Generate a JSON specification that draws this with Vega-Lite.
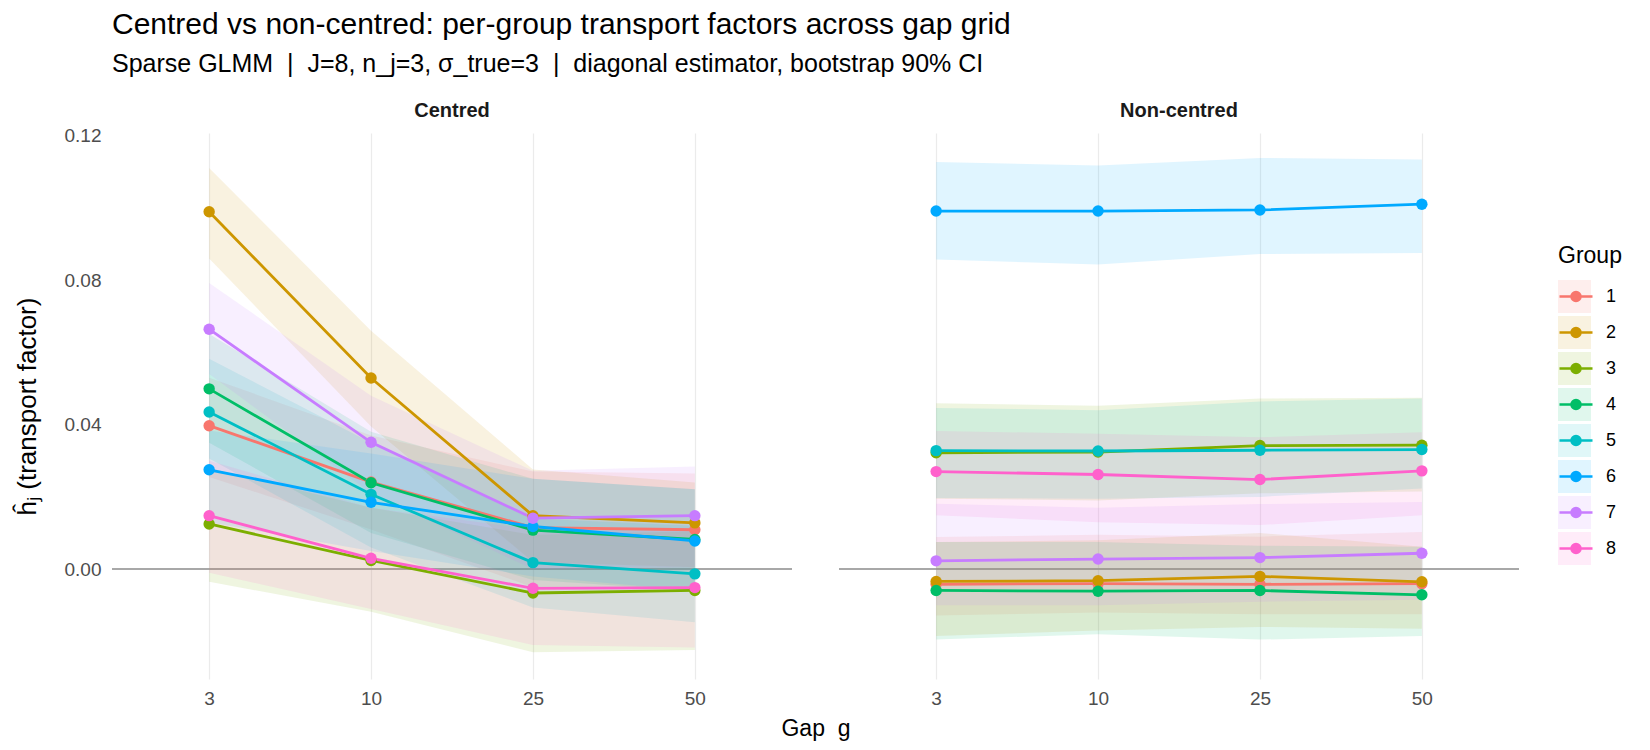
{
  "$schema": "https://vega.github.io/schema/vega-lite/v6.json",
  "background": "white",
  "padding": {"left": 14, "top": 10, "right": 10, "bottom": 2},
  "title": {
    "text": "Centred vs non-centred: per-group transport factors across gap grid",
    "subtitle": "Sparse GLMM \u00a0|\u00a0 J=8, n_j=3, \u03c3_true=3 \u00a0|\u00a0 diagonal estimator, bootstrap 90% CI",
    "anchor": "start",
    "frame": "group",
    "font": "Liberation Sans",
    "fontSize": 30,
    "fontWeight": "normal",
    "color": "#000000",
    "subtitleFont": "Liberation Sans",
    "subtitleFontSize": 25,
    "subtitleColor": "#000000",
    "subtitlePadding": 12,
    "offset": 24
  },
  "data": {
    "values": [
      {"panel": "Centred", "gap": 3, "group": "1", "est": 0.0397, "lo": 0.0255, "hi": 0.0530},
      {"panel": "Centred", "gap": 10, "group": "1", "est": 0.0241, "lo": 0.0110, "hi": 0.0370},
      {"panel": "Centred", "gap": 25, "group": "1", "est": 0.0115, "lo": -0.0050, "hi": 0.0270},
      {"panel": "Centred", "gap": 50, "group": "1", "est": 0.0109, "lo": -0.0055, "hi": 0.0265},
      {"panel": "Centred", "gap": 3, "group": "2", "est": 0.0989, "lo": 0.0860, "hi": 0.1110},
      {"panel": "Centred", "gap": 10, "group": "2", "est": 0.0529, "lo": 0.0395, "hi": 0.0660},
      {"panel": "Centred", "gap": 25, "group": "2", "est": 0.0148, "lo": 0.0020, "hi": 0.0276},
      {"panel": "Centred", "gap": 50, "group": "2", "est": 0.0128, "lo": 0.0005, "hi": 0.0240},
      {"panel": "Centred", "gap": 3, "group": "3", "est": 0.0125, "lo": -0.0035, "hi": 0.0280},
      {"panel": "Centred", "gap": 10, "group": "3", "est": 0.0024, "lo": -0.0118, "hi": 0.0170},
      {"panel": "Centred", "gap": 25, "group": "3", "est": -0.0066, "lo": -0.0230, "hi": 0.0095},
      {"panel": "Centred", "gap": 50, "group": "3", "est": -0.0059, "lo": -0.0224, "hi": 0.0105},
      {"panel": "Centred", "gap": 3, "group": "4", "est": 0.0499, "lo": 0.0350, "hi": 0.0651},
      {"panel": "Centred", "gap": 10, "group": "4", "est": 0.0239, "lo": 0.0100, "hi": 0.0380},
      {"panel": "Centred", "gap": 25, "group": "4", "est": 0.0108, "lo": -0.0030, "hi": 0.0250},
      {"panel": "Centred", "gap": 50, "group": "4", "est": 0.0082, "lo": -0.0060, "hi": 0.0221},
      {"panel": "Centred", "gap": 3, "group": "5", "est": 0.0435, "lo": 0.0306, "hi": 0.0582},
      {"panel": "Centred", "gap": 10, "group": "5", "est": 0.0207, "lo": 0.0060, "hi": 0.0350},
      {"panel": "Centred", "gap": 25, "group": "5", "est": 0.0018, "lo": -0.0106, "hi": 0.0140},
      {"panel": "Centred", "gap": 50, "group": "5", "est": -0.0013, "lo": -0.0147, "hi": 0.0120},
      {"panel": "Centred", "gap": 3, "group": "6", "est": 0.0275, "lo": 0.0130, "hi": 0.0384},
      {"panel": "Centred", "gap": 10, "group": "6", "est": 0.0185, "lo": 0.0050, "hi": 0.0320},
      {"panel": "Centred", "gap": 25, "group": "6", "est": 0.0118, "lo": -0.0020, "hi": 0.0250},
      {"panel": "Centred", "gap": 50, "group": "6", "est": 0.0078, "lo": -0.0060, "hi": 0.0221},
      {"panel": "Centred", "gap": 3, "group": "7", "est": 0.0664, "lo": 0.0540, "hi": 0.0792},
      {"panel": "Centred", "gap": 10, "group": "7", "est": 0.0351, "lo": 0.0210, "hi": 0.0480},
      {"panel": "Centred", "gap": 25, "group": "7", "est": 0.0141, "lo": 0.0000, "hi": 0.0272},
      {"panel": "Centred", "gap": 50, "group": "7", "est": 0.0148, "lo": 0.0005, "hi": 0.0284},
      {"panel": "Centred", "gap": 3, "group": "8", "est": 0.0148, "lo": -0.0010, "hi": 0.0300},
      {"panel": "Centred", "gap": 10, "group": "8", "est": 0.0030, "lo": -0.0110, "hi": 0.0170},
      {"panel": "Centred", "gap": 25, "group": "8", "est": -0.0053, "lo": -0.0210, "hi": 0.0110},
      {"panel": "Centred", "gap": 50, "group": "8", "est": -0.0051, "lo": -0.0217, "hi": 0.0110},
      {"panel": "Non-centred", "gap": 3, "group": "1", "est": -0.0042, "lo": -0.0128, "hi": 0.0089},
      {"panel": "Non-centred", "gap": 10, "group": "1", "est": -0.0040, "lo": -0.0120, "hi": 0.0095},
      {"panel": "Non-centred", "gap": 25, "group": "1", "est": -0.0042, "lo": -0.0125, "hi": 0.0090},
      {"panel": "Non-centred", "gap": 50, "group": "1", "est": -0.0040, "lo": -0.0125, "hi": 0.0103},
      {"panel": "Non-centred", "gap": 3, "group": "2", "est": -0.0034, "lo": -0.0185, "hi": 0.0075},
      {"panel": "Non-centred", "gap": 10, "group": "2", "est": -0.0032, "lo": -0.0170, "hi": 0.0080},
      {"panel": "Non-centred", "gap": 25, "group": "2", "est": -0.0020, "lo": -0.0160, "hi": 0.0100},
      {"panel": "Non-centred", "gap": 50, "group": "2", "est": -0.0035, "lo": -0.0165, "hi": 0.0062},
      {"panel": "Non-centred", "gap": 3, "group": "3", "est": 0.0322, "lo": 0.0195, "hi": 0.0459},
      {"panel": "Non-centred", "gap": 10, "group": "3", "est": 0.0324, "lo": 0.0190, "hi": 0.0452},
      {"panel": "Non-centred", "gap": 25, "group": "3", "est": 0.0342, "lo": 0.0210, "hi": 0.0472},
      {"panel": "Non-centred", "gap": 50, "group": "3", "est": 0.0343, "lo": 0.0215, "hi": 0.0474},
      {"panel": "Non-centred", "gap": 3, "group": "4", "est": -0.0059, "lo": -0.0195, "hi": 0.0075},
      {"panel": "Non-centred", "gap": 10, "group": "4", "est": -0.0061, "lo": -0.0180, "hi": 0.0075},
      {"panel": "Non-centred", "gap": 25, "group": "4", "est": -0.0059, "lo": -0.0195, "hi": 0.0065},
      {"panel": "Non-centred", "gap": 50, "group": "4", "est": -0.0071, "lo": -0.0185, "hi": 0.0062},
      {"panel": "Non-centred", "gap": 3, "group": "5", "est": 0.0328, "lo": 0.0197, "hi": 0.0446},
      {"panel": "Non-centred", "gap": 10, "group": "5", "est": 0.0327, "lo": 0.0195, "hi": 0.0440},
      {"panel": "Non-centred", "gap": 25, "group": "5", "est": 0.0329, "lo": 0.0200, "hi": 0.0464},
      {"panel": "Non-centred", "gap": 50, "group": "5", "est": 0.0331, "lo": 0.0223, "hi": 0.0472},
      {"panel": "Non-centred", "gap": 3, "group": "6", "est": 0.0991, "lo": 0.0857, "hi": 0.1127},
      {"panel": "Non-centred", "gap": 10, "group": "6", "est": 0.0991, "lo": 0.0843, "hi": 0.1117},
      {"panel": "Non-centred", "gap": 25, "group": "6", "est": 0.0994, "lo": 0.0872, "hi": 0.1138},
      {"panel": "Non-centred", "gap": 50, "group": "6", "est": 0.1010, "lo": 0.0875, "hi": 0.1134},
      {"panel": "Non-centred", "gap": 3, "group": "7", "est": 0.0023, "lo": -0.0100, "hi": 0.0181},
      {"panel": "Non-centred", "gap": 10, "group": "7", "est": 0.0028, "lo": -0.0100, "hi": 0.0170},
      {"panel": "Non-centred", "gap": 25, "group": "7", "est": 0.0032, "lo": -0.0090, "hi": 0.0180},
      {"panel": "Non-centred", "gap": 50, "group": "7", "est": 0.0044, "lo": -0.0085, "hi": 0.0186},
      {"panel": "Non-centred", "gap": 3, "group": "8", "est": 0.0270, "lo": 0.0149, "hi": 0.0382},
      {"panel": "Non-centred", "gap": 10, "group": "8", "est": 0.0262, "lo": 0.0130, "hi": 0.0375},
      {"panel": "Non-centred", "gap": 25, "group": "8", "est": 0.0248, "lo": 0.0122, "hi": 0.0365},
      {"panel": "Non-centred", "gap": 50, "group": "8", "est": 0.0272, "lo": 0.0149, "hi": 0.0379}
    ]
  },
  "facet": {
    "column": {
      "field": "panel",
      "type": "nominal",
      "sort": ["Centred", "Non-centred"],
      "header": {
        "title": "Gap\u00a0 g",
        "titleOrient": "bottom",
        "titleFont": "Liberation Sans",
        "titleFontSize": 23,
        "titleFontWeight": "normal",
        "titleColor": "#000000",
        "titlePadding": 0,
        "labelOrient": "top",
        "labelFont": "Liberation Sans",
        "labelFontSize": 20,
        "labelFontWeight": "bold",
        "labelColor": "#1A1A1A",
        "labelPadding": 12
      }
    }
  },
  "spacing": 45,
  "spec": {
    "width": 680,
    "height": 546,
    "encoding": {
      "x": {
        "field": "gap",
        "type": "ordinal",
        "sort": [3, 10, 25, 50],
        "scale": {"type": "point", "padding": 0.6},
        "axis": {"title": null, "labelAngle": 0, "labelPadding": 10, "grid": true}
      }
    },
    "layer": [
      {
        "mark": {"type": "rule", "color": "#A8A8A8", "strokeWidth": 1.3},
        "encoding": {
          "x": null,
          "y": {
            "datum": 0,
            "type": "quantitative",
            "scale": {"domain": [-0.0304, 0.1207], "nice": false, "zero": false},
            "axis": {
              "title": "\u0125\u2c7c (transport factor)",
              "titleFontSize": 26,
              "values": [-0.02, 0, 0.02, 0.04, 0.06, 0.08, 0.1, 0.12],
              "labelExpr": "round(datum.value * 100) % 4 == 0 ? format(datum.value, '.2f') : ''",
              "labelPadding": 10,
              "titlePadding": 24
            }
          }
        }
      },
      {
        "mark": {"type": "area", "fillOpacity": 0.12},
        "encoding": {
          "y": {"field": "lo", "type": "quantitative"},
          "y2": {"field": "hi"},
          "fill": {
            "field": "group",
            "type": "nominal",
            "scale": {
              "domain": ["1", "2", "3", "4", "5", "6", "7", "8"],
              "range": ["#F8766D", "#CD9600", "#7CAE00", "#00BE67", "#00BFC4", "#00A9FF", "#C77CFF", "#FF61CC"]
            },
            "legend": {
              "title": "Group",
              "orient": "none",
              "legendX": 1446,
              "legendY": 112,
              "titleFont": "Liberation Sans",
              "titleFontSize": 23,
              "titleFontWeight": "normal",
              "titleColor": "#000000",
              "titlePadding": 12,
              "labelFont": "Liberation Sans",
              "labelFontSize": 18,
              "labelColor": "#000000",
              "labelOffset": 15,
              "symbolType": "square",
              "symbolSize": 1089,
              "symbolOpacity": 0.12,
              "symbolStrokeWidth": 0,
              "clipHeight": 33,
              "rowPadding": 3
            }
          }
        }
      },
      {
        "mark": {"type": "line", "strokeWidth": 2.8},
        "encoding": {
          "y": {"field": "est", "type": "quantitative"},
          "stroke": {
            "field": "group",
            "type": "nominal",
            "scale": {
              "range": ["#F8766D", "#CD9600", "#7CAE00", "#00BE67", "#00BFC4", "#00A9FF", "#C77CFF", "#FF61CC"]
            },
            "legend": {
              "title": "\u00a0",
              "orient": "none",
              "legendX": 1446,
              "legendY": 112,
              "titleFont": "Liberation Sans",
              "titleFontSize": 23,
              "titleFontWeight": "normal",
              "titleOpacity": 0,
              "titlePadding": 12,
              "labelFont": "Liberation Sans",
              "labelFontSize": 18,
              "labelExpr": "''",
              "labelOffset": 15,
              "symbolType": "M-1,0H1M-0.27,0A0.27,0.27,0,1,0,0.27,0A0.27,0.27,0,1,0,-0.27,0M-0.135,0A0.135,0.135,0,1,0,0.135,0A0.135,0.135,0,1,0,-0.135,0M-0.04,0A0.04,0.04,0,1,0,0.04,0A0.04,0.04,0,1,0,-0.04,0",
              "symbolSize": 1089,
              "symbolStrokeWidth": 2.6,
              "symbolOpacity": 1,
              "clipHeight": 33,
              "rowPadding": 3
            }
          }
        }
      },
      {
        "mark": {"type": "point", "filled": true, "size": 130, "opacity": 1},
        "encoding": {
          "y": {"field": "est", "type": "quantitative"},
          "color": {
            "field": "group",
            "type": "nominal",
            "scale": {
              "domain": ["1", "2", "3", "4", "5", "6", "7", "8"],
              "range": ["#F8766D", "#CD9600", "#7CAE00", "#00BE67", "#00BFC4", "#00A9FF", "#C77CFF", "#FF61CC"]
            },
            "legend": null
          }
        }
      }
    ]
  },
  "config": {
    "font": "Liberation Sans",
    "view": {"stroke": null},
    "axis": {
      "domain": false,
      "ticks": false,
      "gridColor": "#EBEBEB",
      "gridWidth": 1.2,
      "labelFont": "Liberation Sans",
      "labelFontSize": 19,
      "labelColor": "#4D4D4D",
      "titleFont": "Liberation Sans",
      "titleFontSize": 23,
      "titleFontWeight": "normal",
      "titleColor": "#000000"
    }
  }
}
